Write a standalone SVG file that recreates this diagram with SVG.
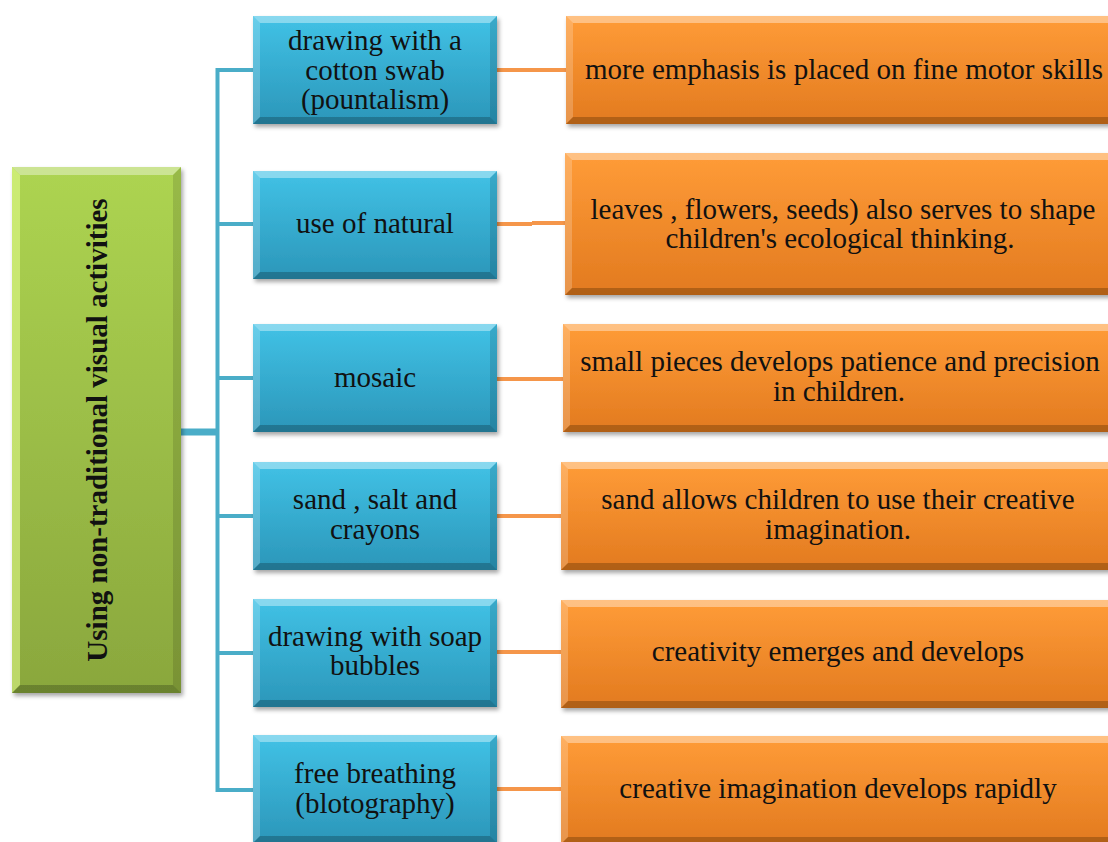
<svg xmlns="http://www.w3.org/2000/svg" width="1108" height="842" viewBox="0 0 1108 842">
  <style>
    .txt { font-family: 'Liberation Serif', 'Times New Roman', 'DejaVu Serif', serif; font-size: 29px; font-weight: 400; fill: #111; text-anchor: middle; }
    .title { font-family: 'Liberation Serif', 'Times New Roman', 'DejaVu Serif', serif; font-size: 29px; font-weight: bold; fill: #111; text-anchor: middle; }
    .hi { fill: #ffffff; opacity: 0.38; }
    .hi2 { fill: #ffffff; opacity: 0.2; }
    .sh { fill: #000000; opacity: 0.22; }
    .sh2 { fill: #000000; opacity: 0.12; }
    .link-blue { stroke: #4aadc8; stroke-width: 4; fill: none; }
    .link-orange { stroke: #f5964a; stroke-width: 4; fill: none; }
  </style>
  <defs>
    <linearGradient id="gBlue" x1="0" y1="0" x2="0" y2="1">
      <stop offset="0" stop-color="#41c2e6"/>
      <stop offset="1" stop-color="#2b96b9"/>
    </linearGradient>
    <linearGradient id="gOrange" x1="0" y1="0" x2="0" y2="1">
      <stop offset="0" stop-color="#ff9c38"/>
      <stop offset="1" stop-color="#e27a1f"/>
    </linearGradient>
    <linearGradient id="gGreen" x1="0" y1="0" x2="0" y2="1">
      <stop offset="0" stop-color="#add451"/>
      <stop offset="1" stop-color="#8aa73d"/>
    </linearGradient>
    <filter id="drop" x="-5%" y="-5%" width="115%" height="120%">
      <feDropShadow dx="2" dy="3" stdDeviation="2" flood-color="#000" flood-opacity="0.35"/>
    </filter>

    <!-- bevelled blue box, 244 x 108 -->
    <g id="box-blue">
      <rect x="0" y="0" width="244" height="108" fill="url(#gBlue)"/>
      <polygon class="hi" points="0,0 244,0 237,7 7,7"/>
      <polygon class="hi2" points="0,0 7,7 7,101 0,108"/>
      <polygon class="sh" points="0,108 7,101 237,101 244,108"/>
      <polygon class="sh2" points="244,0 244,108 237,101 237,7"/>
    </g>
    <!-- bevelled orange box, runs past the right edge -->
    <g id="box-orange">
      <rect x="0" y="0" width="560" height="108" fill="url(#gOrange)"/>
      <polygon class="hi" points="0,0 560,0 553,7 7,7"/>
      <polygon class="hi2" points="0,0 7,7 7,101 0,108"/>
      <polygon class="sh" points="0,108 7,101 553,101 560,108"/>
    </g>
    <g id="box-orange-tall">
      <rect x="0" y="0" width="560" height="142" fill="url(#gOrange)"/>
      <polygon class="hi" points="0,0 560,0 553,7 7,7"/>
      <polygon class="hi2" points="0,0 7,7 7,135 0,142"/>
      <polygon class="sh" points="0,142 7,135 553,135 560,142"/>
    </g>
  </defs>

  <rect width="1108" height="842" fill="#ffffff"/>

  <!-- connectors -->
  <g id="connectors">
    <line x1="181" y1="432" x2="218" y2="432" stroke="#4aadc8" stroke-width="7"/>
    <path class="link-blue" d="M253,70 H217.5 V790 H253"/>
    <line class="link-blue" x1="217" y1="224" x2="253" y2="224"/>
    <line class="link-blue" x1="217" y1="378" x2="253" y2="378"/>
    <line class="link-blue" x1="217" y1="516" x2="253" y2="516"/>
    <line class="link-blue" x1="217" y1="653" x2="253" y2="653"/>

    <line class="link-orange" x1="497" y1="70" x2="566" y2="70"/>
    <path class="link-orange" d="M497,224 H532 M532,223 H565"/>
    <line class="link-orange" x1="497" y1="379" x2="563" y2="379"/>
    <line class="link-orange" x1="497" y1="516" x2="561" y2="516"/>
    <line class="link-orange" x1="497" y1="652" x2="561" y2="652"/>
    <line class="link-orange" x1="497" y1="789" x2="561" y2="789"/>
  </g>

  <!-- root node -->
  <g id="root">
    <g filter="url(#drop)">
      <rect x="12" y="167" width="169" height="526" fill="url(#gGreen)"/>
      <polygon class="hi" points="12,167 181,167 173,175 20,175"/>
      <polygon fill="#e6ff90" opacity="0.55" points="12,167 20,175 20,685 12,693"/>
      <polygon class="sh" points="12,693 20,685 173,685 181,693"/>
      <polygon class="sh2" points="181,167 181,693 173,685 173,175"/>
    </g>
    <text class="title" transform="translate(107,430) rotate(-90)">Using non-traditional visual activities</text>
  </g>

  <!-- activity nodes -->
  <g id="act-1">
    <use href="#box-blue" x="253" y="16" filter="url(#drop)"/>
    <text class="txt" x="375" y="50">drawing with a</text>
    <text class="txt" x="375" y="80">cotton swab</text>
    <text class="txt" x="375" y="109">(pountalism)</text>
  </g>
  <g id="act-2">
    <use href="#box-blue" x="253" y="171" filter="url(#drop)"/>
    <text class="txt" x="375" y="233">use of natural</text>
  </g>
  <g id="act-3">
    <use href="#box-blue" x="253" y="324" filter="url(#drop)"/>
    <text class="txt" x="375" y="387">mosaic</text>
  </g>
  <g id="act-4">
    <use href="#box-blue" x="253" y="462" filter="url(#drop)"/>
    <text class="txt" x="375" y="509">sand , salt and</text>
    <text class="txt" x="375" y="539">crayons</text>
  </g>
  <g id="act-5">
    <use href="#box-blue" x="253" y="599" filter="url(#drop)"/>
    <text class="txt" x="375" y="646">drawing with soap</text>
    <text class="txt" x="375" y="675">bubbles</text>
  </g>
  <g id="act-6">
    <use href="#box-blue" x="253" y="735" filter="url(#drop)"/>
    <text class="txt" x="375" y="783">free breathing</text>
    <text class="txt" x="375" y="813">(blotography)</text>
  </g>

  <!-- outcome nodes -->
  <g id="out-1">
    <use href="#box-orange" x="566" y="16" filter="url(#drop)"/>
    <text class="txt" x="844" y="79">more emphasis is placed on fine motor skills</text>
  </g>
  <g id="out-2">
    <use href="#box-orange-tall" x="565" y="153" filter="url(#drop)"/>
    <text class="txt" x="843" y="219">leaves , flowers, seeds) also serves to shape</text>
    <text class="txt" x="840" y="248">children's ecological thinking.</text>
  </g>
  <g id="out-3">
    <use href="#box-orange" x="563" y="324" filter="url(#drop)"/>
    <text class="txt" x="840" y="371">small pieces develops patience and precision</text>
    <text class="txt" x="839" y="401">in children.</text>
  </g>
  <g id="out-4">
    <use href="#box-orange" x="561" y="462" filter="url(#drop)"/>
    <text class="txt" x="838" y="509">sand allows children to use their creative</text>
    <text class="txt" x="838" y="539">imagination.</text>
  </g>
  <g id="out-5">
    <use href="#box-orange" x="561" y="600" filter="url(#drop)"/>
    <text class="txt" x="838" y="661">creativity emerges and develops</text>
  </g>
  <g id="out-6">
    <use href="#box-orange" x="561" y="736" filter="url(#drop)"/>
    <text class="txt" x="838" y="798">creative imagination develops rapidly</text>
  </g>
</svg>
